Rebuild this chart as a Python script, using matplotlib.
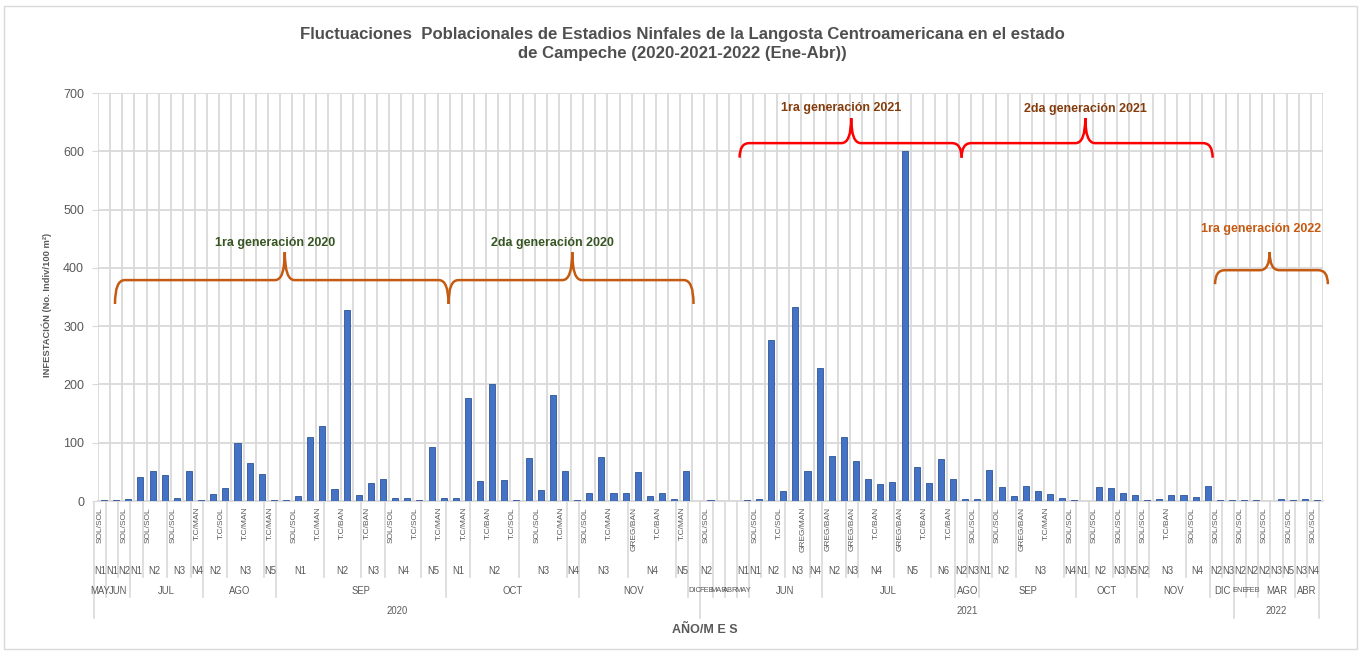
import numpy as np
import matplotlib
matplotlib.use("Agg")
import matplotlib.pyplot as plt
from matplotlib import font_manager
from matplotlib import transforms as mtransforms
from matplotlib.path import Path
from matplotlib.patches import PathPatch, Rectangle
from matplotlib.lines import Line2D

# ---------------- data ----------------
values = [1.5, 2, 3, 42, 52, 45, 5, 52, 2, 12,
          23, 100, 66, 47, 2.5, 1.5, 8.5, 110, 128, 20,
          327, 11, 31, 37, 5, 6, 2.5, 93, 6, 6,
          176, 35, 200, 36, 1, 73, 19, 182, 52, 1,
          13, 76, 14, 14, 49, 8, 13, 3, 52, 0,
          1, 0, 0, 1, 4, 277, 17, 333, 51, 229,
          78, 110, 69, 38, 30, 33, 600, 59, 31, 72,
          38.5, 4, 3, 54, 24, 9, 26, 17, 12, 5.5,
          2, 0.5, 24, 21.5, 13, 10, 1, 3, 11, 10,
          7, 25, 1.5, 1.5, 1.5, 1.5, 0.5, 4, 1.5, 4, 1]

# innermost labels (only every second one is displayed on the axis)
shown_inner = ["SOL/SOL", "SOL/SOL", "SOL/SOL", "SOL/SOL", "T.C/MAN", "T.C/SOL", "T.C/MAN",
               "T.C/MAN", "SOL/SOL", "T.C/MAN", "T.C/BAN", "T.C/BAN", "SOL/SOL", "T.C/SOL",
               "T.C/MAN", "T.C/MAN", "T.C/BAN", "T.C/SOL", "SOL/SOL", "T.C/MAN", "SOL/SOL",
               "T.C/MAN", "GREG/BAN", "T.C/BAN", "T.C/MAN", "SOL/SOL", "", "SOL/SOL",
               "T.C/SOL", "GREG/MAN", "GREG/BAN", "GREG/BAN", "T.C/BAN", "GREG/BAN", "T.C/BAN",
               "T.C/BAN", "SOL/SOL", "SOL/SOL", "GREG/BAN", "T.C/MAN", "SOL/SOL", "SOL/SOL",
               "SOL/SOL", "SOL/SOL", "T.C/BAN", "SOL/SOL", "SOL/SOL", "SOL/SOL", "SOL/SOL",
               "SOL/SOL", "SOL/SOL"]

stages = (["N1", "N1", "N2", "N1", "N2", "N2", "N3", "N3", "N4", "N2", "N2", "N3", "N3", "N3", "N5"]
          + ["N1"] * 4 + ["N2"] * 3 + ["N3"] * 2 + ["N4"] * 3 + ["N5"] * 2
          + ["N1"] * 2 + ["N2"] * 4 + ["N3"] * 4 + ["N4"]
          + ["N3"] * 4 + ["N4"] * 4 + ["N5"] + [""]
          + ["N2", "", "", "N1", "N1"] + ["N2"] * 2 + ["N3"] * 2 + ["N4"]
          + ["N2"] * 2 + ["N3"] + ["N4"] * 3 + ["N5"] * 3 + ["N6"] * 2
          + ["N2", "N3", "N1"] + ["N2"] * 2 + ["N3"] * 4 + ["N4"]
          + ["N1"] + ["N2"] * 2 + ["N3", "N5"]
          + ["N2"] + ["N3"] * 3 + ["N4"] * 2 + ["N2", "N3"]
          + ["N2", "N2", "N2", "N3", "N5", "N3", "N4"])

months = (["MAY"] + ["JUN"] * 2 + ["JUL"] * 6 + ["AGO"] * 6 + ["SEP"] * 14 + ["OCT"] * 11
          + ["NOV"] * 9 + ["DIC"]
          + ["FEB", "MAR", "ABR", "MAY"] + ["JUN"] * 6 + ["JUL"] * 11 + ["AGO"] * 2 + ["SEP"] * 8
          + ["OCT"] * 5 + ["NOV"] * 6 + ["DIC"] * 2
          + ["ENE", "FEB"] + ["MAR"] * 3 + ["ABR"] * 2)

years = ["2020"] * 50 + ["2021"] * 44 + ["2022"] * 7

inner = []
for lab in shown_inner:
    inner += [lab, ""]
inner = inner[:len(values)]

title = ("Fluctuaciones  Poblacionales de Estadios Ninfales de la Langosta Centroamericana en el estado\n"
         "de Campeche (2020-2021-2022 (Ene-Abr))")

# ---------------- fonts ----------------
def has_font(name):
    try:
        font_manager.findfont(font_manager.FontProperties(family=name), fallback_to_default=False)
        return True
    except Exception:
        return False

NARROW = has_font("Liberation Sans Narrow")
FONT = "Liberation Sans Narrow" if NARROW else "Liberation Sans"
S = 1.0 if NARROW else 0.82
plt.rcParams["font.family"] = [FONT, "DejaVu Sans"]

GRAY = "#595959"
GRID = "#D9D9D9"
W, H = 1362, 654

fig = plt.figure(figsize=(W / 100, H / 100), dpi=100)
fig.patch.set_facecolor("white")
fig.add_artist(Rectangle((4 / W, 5 / H), 1353 / W, 643 / H, transform=fig.transFigure,
                         fill=False, edgecolor=GRID, lw=1.0))

ax = fig.add_axes([98 / W, 1 - 501 / H, (1323 - 98) / W, (501 - 93) / H])
n = len(values)
x = np.arange(n)
ax.bar(x, values, width=0.5, color="#4472C4", edgecolor="#2F5597", linewidth=0.6, zorder=3)
ax.set_xlim(-0.5, n - 0.5)
ax.set_ylim(0, 700)
ax.set_yticks(range(0, 701, 100))
ax.set_xticks([])
for k in range(n + 1):
    ax.axvline(k - 0.5, color=GRID, lw=1.3, zorder=1)
ax.yaxis.grid(True, color=GRID, lw=1.3, zorder=1)
ax.set_axisbelow(True)
for s in ("top", "right", "left"):
    ax.spines[s].set_visible(False)
ax.spines["bottom"].set_color(GRID)
ax.spines["bottom"].set_linewidth(1.3)
ax.tick_params(axis="y", length=4, color=GRID, labelcolor=GRAY, labelsize=11 * S, pad=6)

# ---------------- multi-level category axis ----------------
def fy(p):
    return 1 - p / H

tr = mtransforms.blended_transform_factory(ax.transData, fig.transFigure)
tr = mtransforms.offset_copy(tr, fig=fig, x=-4, units="dots")

def runs(keys):
    out = []
    start = 0
    for i in range(1, len(keys) + 1):
        if i == len(keys) or keys[i] != keys[start]:
            out.append((start, i, keys[start]))
            start = i
    return out

lvl2_runs = runs(list(zip(years, months, stages)))
month_runs = runs(list(zip(years, months)))
year_runs = runs(years)

depth = {}
for st, en, _ in lvl2_runs:
    for b in (st, en):
        depth[b] = max(depth.get(b, 0), 577)
for st, en, _ in month_runs:
    for b in (st, en):
        depth[b] = max(depth.get(b, 0), 597)
for st, en, _ in year_runs:
    for b in (st, en):
        depth[b] = max(depth.get(b, 0), 618)
for b, d in depth.items():
    fig.add_artist(Line2D([b - 0.5, b - 0.5], [fy(502), fy(d)], transform=tr, color=GRID, lw=1.2))

for i, lab in enumerate(inner):
    if lab:
        fig.text(i, fy(507), lab, transform=tr, rotation=90, ha="center", va="top",
                 fontsize=7.4 * S, color=GRAY)
for st, en, key in lvl2_runs:
    if key[2]:
        fig.text((st + en - 1) / 2, fy(571), key[2], transform=tr, ha="center", va="center",
                 fontsize=8.4 * S, color=GRAY)
single_starts = {st for st, en, _ in month_runs if en - st == 1}
for st, en, key in month_runs:
    crowded = (en - st == 1) and ((st - 1) in single_starts or (st + 1) in single_starts)
    fig.text((st + en - 1) / 2, fy(591), key[1], transform=tr, ha="center", va="center",
             fontsize=(6.6 if crowded else 8.4) * S, color=GRAY)
for st, en, key in year_runs:
    fig.text((st + en - 1) / 2, fy(611), key, transform=tr, ha="center", va="center",
             fontsize=8.4 * S, color=GRAY)

# ---------------- titles ----------------
fig.text(682 / W, fy(44), title, ha="center", va="center", fontsize=14.7 * S,
         fontweight="bold", color="#4F4F4F", linespacing=1.4)
fig.text(47 / W, fy(305), "INFESTACIÓN (No. Indiv/100 m²)", rotation=90, ha="center",
         va="center", fontsize=8.2 * S, fontweight="bold", color=GRAY)
fig.text(705 / W, fy(630), "AÑO/M E S", ha="center", va="center", fontsize=11 * S,
         fontweight="bold", color=GRAY)

# ---------------- generation braces ----------------
def brace(xa, xb, xm, y0, d, h, color, r=0.8):
    verts = [(xa, y0 - d), (xa, y0), (xa + r, y0), (xm - r, y0), (xm, y0), (xm, y0 + h),
             (xm, y0), (xm + r, y0), (xb - r, y0), (xb, y0), (xb, y0 - d)]
    codes = [Path.MOVETO, Path.CURVE3, Path.CURVE3, Path.LINETO, Path.CURVE3, Path.CURVE3,
             Path.CURVE3, Path.CURVE3, Path.LINETO, Path.CURVE3, Path.CURVE3]
    ax.add_patch(PathPatch(Path(verts, codes), fill=False, edgecolor=color, lw=1.8,
                           clip_on=False, zorder=5))

ORANGE = "#C55A11"
RED = "#FF0000"
brace(0.9, 28.4, 14.9, 379, 41, 48, ORANGE)
brace(28.4, 48.6, 38.6, 379, 41, 48, ORANGE)
brace(52.4, 70.7, 61.6, 614, 25, 43, RED)
brace(70.7, 91.4, 80.9, 614, 25, 43, RED)
brace(91.6, 100.9, 96.1, 396, 24, 31, ORANGE)

gen_labels = ["1ra generación 2020", "2da generación 2020", "1ra generación 2021",
              "2da generación 2021", "1ra generación 2022"]
gen_colors = ["#375623", "#375623", "#843C0C", "#843C0C", "#C55A11"]
gen_pos = [(14.1, 442), (37.0, 442), (60.8, 675), (80.9, 673), (95.4, 466)]
for lab, col, (px, py) in zip(gen_labels, gen_colors, gen_pos):
    ax.text(px, py, lab, ha="center", va="center", fontsize=11 * S, fontweight="bold",
            color=col, zorder=6, clip_on=False)

fig.savefig("out.png", dpi=100)
